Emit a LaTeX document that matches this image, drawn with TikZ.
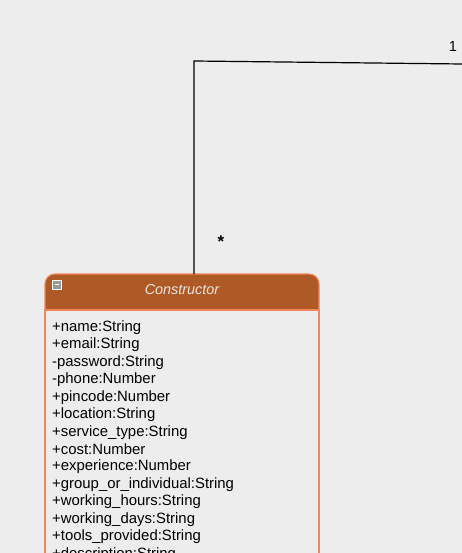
\documentclass[tikz,border=0pt]{standalone}
\usepackage{fontspec}
\setmainfont{Liberation Sans}
\definecolor{bgcol}{HTML}{EDEDED}
\definecolor{hdrcol}{HTML}{AD5A27}
\definecolor{edgecol}{HTML}{F0865A}
\definecolor{titlecol}{HTML}{F2E4DC}
\tikzset{
  attr/.style={anchor=west, inner sep=0pt, font=\fontsize{14.9}{16}\selectfont},
  mult/.style={inner sep=0pt, font=\fontsize{14.6}{16}\selectfont},
}
\begin{document}
\begin{tikzpicture}[x=1pt, y=-1pt]

\fill[bgcol] (0,0) rectangle (462,553);
\useasboundingbox (0,0) rectangle (462,553);
\clip (0,0) rectangle (462,553);

% class box
\draw[edgecol, line width=1.1pt, fill=hdrcol, rounded corners=10pt] (45,274) rectangle (319,330);
\draw[edgecol, line width=1.1pt, fill=bgcol] (45,310) rectangle (319,570);
\node[text=titlecol, inner sep=0pt, font=\fontsize{14.4}{16}\selectfont\itshape] (ctor) at (182,290) {Constructor};

% collapse box
\draw[white, fill=gray!80] (52,280) rectangle (61,289);
\draw[white, thick] (54.5,284.5) -- (58.5,284.5);

% attributes
\foreach \i/\txt in {0/+name:String, 1/+email:String, 2/-password:String,
  3/-phone:Number, 4/+pincode:Number, 5/+location:String,
  6/+service\_type:String, 7/+cost:Number, 8/+experience:Number,
  9/+group\_or\_individual:String, 10/+working\_hours:String,
  11/+working\_days:String, 12/+tools\_provided:String,
  13/+description:String}
  \node[attr] (a\i) at (52,{327.5+17.45*\i}) {\txt};

% association
\coordinate (ctortop) at (194,274);
\coordinate (bend) at (194,61);
\coordinate (farend) at (462,64);
\draw[line width=1.2pt] (ctortop) -- (bend) -- (farend);
\node[mult] (m1) at (453,46) {1};
\node[mult, font=\fontsize{17}{18}\selectfont\bfseries] (m2) at (221,242) {*};

\end{tikzpicture}
\end{document}
